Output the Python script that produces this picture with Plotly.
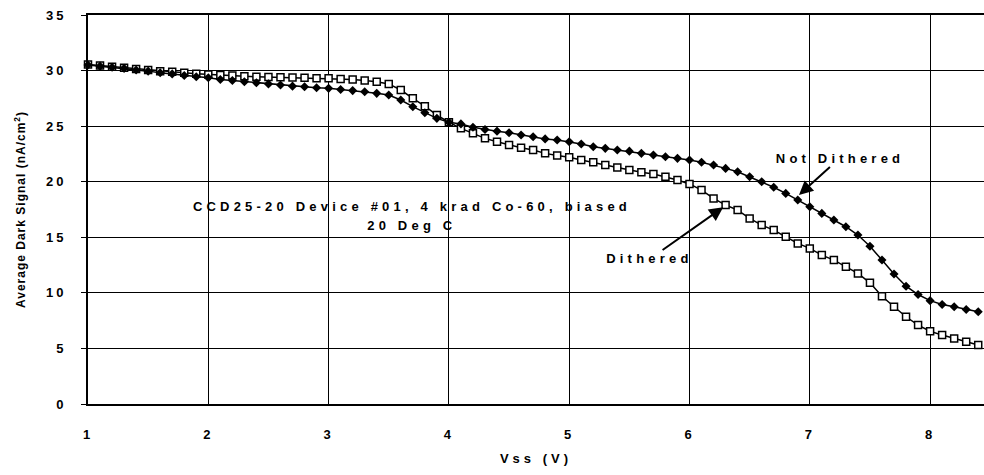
import plotly.graph_objects as go

vss = [1.0, 1.1, 1.2, 1.3, 1.4, 1.5, 1.6, 1.7, 1.8, 1.9,
       2.0, 2.1, 2.2, 2.3, 2.4, 2.5, 2.6, 2.7, 2.8, 2.9,
       3.0, 3.1, 3.2, 3.3, 3.4, 3.5, 3.6, 3.7, 3.8, 3.9,
       4.0, 4.1, 4.2, 4.3, 4.4, 4.5, 4.6, 4.7, 4.8, 4.9,
       5.0, 5.1, 5.2, 5.3, 5.4, 5.5, 5.6, 5.7, 5.8, 5.9,
       6.0, 6.1, 6.2, 6.3, 6.4, 6.5, 6.6, 6.7, 6.8, 6.9,
       7.0, 7.1, 7.2, 7.3, 7.4, 7.5, 7.6, 7.7, 7.8, 7.9,
       8.0, 8.1, 8.2, 8.3, 8.4]

not_dithered = [30.5, 30.4, 30.3, 30.2, 30.05, 29.95, 29.8, 29.7, 29.55, 29.45,
                29.35, 29.2, 29.1, 29.0, 28.9, 28.8, 28.7, 28.6, 28.55, 28.45,
                28.4, 28.3, 28.2, 28.1, 27.95, 27.8, 27.35, 26.75, 26.2, 25.7,
                25.35, 25.2, 24.9, 24.7, 24.55, 24.4, 24.2, 24.05, 23.85, 23.75,
                23.6, 23.4, 23.15, 23.0, 22.85, 22.75, 22.55, 22.4, 22.25, 22.1,
                21.95, 21.75, 21.5, 21.2, 20.9, 20.45, 20.0, 19.5, 18.95, 18.35,
                17.75, 17.15, 16.55, 15.95, 15.2, 14.2, 12.95, 11.7, 10.6, 9.85,
                9.3, 8.95, 8.75, 8.5, 8.3]

dithered = [30.55, 30.45, 30.35, 30.25, 30.15, 30.05, 29.95, 29.9, 29.8, 29.72,
            29.65, 29.6, 29.55, 29.5, 29.45, 29.42, 29.4, 29.37, 29.35, 29.32,
            29.3, 29.25, 29.2, 29.1, 29.0, 28.8, 28.25, 27.5, 26.8, 26.0,
            25.35, 24.8, 24.35, 23.9, 23.6, 23.3, 23.05, 22.85, 22.55, 22.35,
            22.2, 21.95, 21.75, 21.5, 21.27, 21.05, 20.85, 20.7, 20.45, 20.15,
            19.8, 19.25, 18.5, 17.9, 17.45, 16.7, 16.1, 15.65, 15.05, 14.45,
            14.0, 13.4, 12.95, 12.35, 11.75, 10.9, 9.7, 8.75, 7.85, 7.1,
            6.55, 6.2, 5.9, 5.6, 5.3]

x_ticks = [1, 2, 3, 4, 5, 6, 7, 8]
y_ticks = [0, 5, 10, 15, 20, 25, 30, 35]

FONT = "Liberation Sans, Arial, sans-serif"

fig = go.Figure()
fig.add_trace(go.Scatter(
    x=vss, y=dithered, mode="lines+markers", name="Dithered",
    line=dict(color="black", width=1.5),
    marker=dict(symbol="square", size=7, color="white",
                line=dict(color="black", width=1.5)),
    cliponaxis=False,
))
fig.add_trace(go.Scatter(
    x=vss, y=not_dithered, mode="lines+markers", name="Not Dithered",
    line=dict(color="black", width=1.5),
    marker=dict(symbol="diamond", size=7, color="black"),
    cliponaxis=False,
))

ann_font = dict(family=FONT, size=13, color="black", weight="bold")
annotations = [
    dict(x=3.69, y=17.8, xref="x", yref="y", showarrow=False,
         text="<b>CCD25-20 Device #01, 4 krad Co-60, biased</b>", font=ann_font),
    dict(x=3.69, y=16.1, xref="x", yref="y", showarrow=False,
         text="<b>20 Deg C</b>", font=ann_font),
    # labels with arrows: text sits at (ax, ay), arrow points to (x, y)
    dict(x=6.91, y=18.8, ax=7.25, ay=22.13, xref="x", yref="y", axref="x", ayref="y",
         text="<b>Not Dithered</b>", font=ann_font,
         showarrow=True, arrowhead=2, arrowsize=1.4, arrowwidth=2,
         arrowcolor="black", standoff=0),
    dict(x=6.28, y=17.7, ax=5.67, ay=13.05, xref="x", yref="y", axref="x", ayref="y",
         text="<b>Dithered</b>", font=ann_font,
         showarrow=True, arrowhead=2, arrowsize=1.4, arrowwidth=2,
         arrowcolor="black", standoff=0),
]

fig.update_layout(
    width=984, height=475,
    margin=dict(l=88, r=0, t=15, b=71, autoexpand=False),
    paper_bgcolor="white", plot_bgcolor="white",
    showlegend=False,
    font=dict(family=FONT, size=13, color="black"),
    annotations=annotations,
)
fig.update_xaxes(
    range=[1, 8.448], tickvals=x_ticks, ticktext=["<b>%d</b>" % v for v in x_ticks],
    showgrid=True, gridcolor="black", gridwidth=1,
    showline=True, linecolor="black", linewidth=2, mirror=True,
    ticks="", ticklabelstandoff=17,
    tickfont=dict(family=FONT, size=13, color="black", weight="bold"),
    title=dict(text="<b>Vss (V)</b>", standoff=13,
               font=dict(family=FONT, size=13, color="black", weight="bold")),
    zeroline=False,
)
fig.update_yaxes(
    range=[0, 35], tickvals=y_ticks, ticktext=["<b>%d</b>" % v for v in y_ticks],
    showgrid=True, gridcolor="black", gridwidth=1,
    showline=True, linecolor="black", linewidth=2, mirror=False,
    ticks="outside", ticklen=5, tickcolor="black", tickwidth=1,
    ticklabelstandoff=12,
    tickfont=dict(family=FONT, size=13, color="black", weight="bold"),
    title=dict(text="<b>Average Dark Signal (nA/cm<sup>2</sup>)</b>", standoff=24,
               font=dict(family=FONT, size=12, color="black", weight="bold")),
    zeroline=False,
)

post = """
var st = document.createElement('style');
st.textContent = '.xtick text, .ytick text {letter-spacing: 3px;} ' +
  'text.annotation-text {letter-spacing: 4.2px;} ' +
  'text.xtitle {letter-spacing: 4px;} text.ytitle {letter-spacing: 1px;}';
document.head.appendChild(st);
"""
fig.write_html("out.html", post_script=post)
